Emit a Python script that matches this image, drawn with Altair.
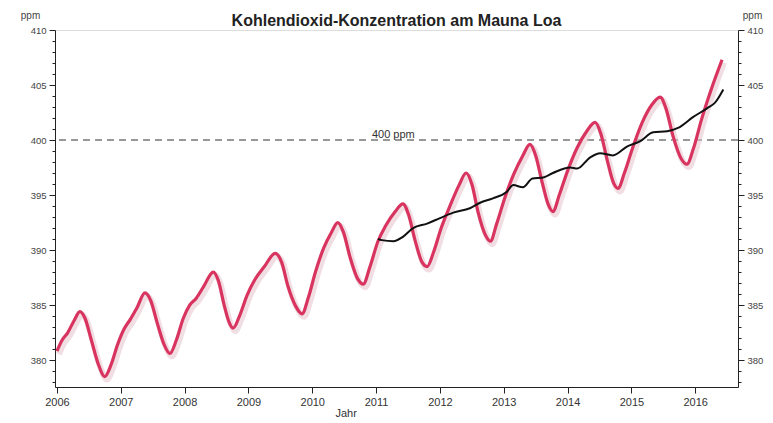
import altair as alt
import pandas as pd

# Monthly-ish CO2 readings (red curve), decimal year / ppm
red_year = [2006.00, 2006.08, 2006.17, 2006.27, 2006.36, 2006.44, 2006.54, 2006.65, 2006.75, 2006.85, 2006.95,
            2007.05, 2007.15, 2007.25, 2007.38, 2007.47, 2007.57, 2007.68, 2007.77, 2007.87, 2007.98,
            2008.08, 2008.18, 2008.30, 2008.45, 2008.53, 2008.62, 2008.70, 2008.76, 2008.86, 2008.98,
            2009.10, 2009.25, 2009.42, 2009.52, 2009.62, 2009.74, 2009.84, 2009.94,
            2010.05, 2010.18, 2010.30, 2010.40, 2010.49, 2010.59, 2010.71, 2010.80, 2010.90,
            2011.03, 2011.15, 2011.30, 2011.42, 2011.51, 2011.61, 2011.72, 2011.80, 2011.90,
            2012.02, 2012.15, 2012.30, 2012.41, 2012.50, 2012.60, 2012.71, 2012.79, 2012.89,
            2013.02, 2013.15, 2013.30, 2013.41, 2013.50, 2013.60, 2013.70, 2013.77, 2013.87,
            2014.00, 2014.15, 2014.30, 2014.43, 2014.52, 2014.62, 2014.72, 2014.79, 2014.89,
            2015.02, 2015.17, 2015.32, 2015.45, 2015.54, 2015.65, 2015.78, 2015.87, 2015.97,
            2016.10, 2016.25, 2016.42]
red_ppm = [380.8, 381.8, 382.5, 383.6, 384.4, 383.8, 381.8, 379.6, 378.5, 379.6, 381.4,
           382.8, 383.7, 384.7, 386.1, 385.4, 383.4, 381.4, 380.6, 381.8, 383.8,
           385.0, 385.6, 386.7, 388.0, 387.2, 385.0, 383.4, 382.9, 384.0, 385.9,
           387.3, 388.5, 389.7, 388.9, 386.7, 384.9, 384.2, 385.7,
           388.0, 390.2, 391.6, 392.5, 391.6, 389.4, 387.4, 386.9, 388.4,
           390.8, 392.2, 393.5, 394.2, 393.2, 390.9, 388.9, 388.5, 389.8,
           392.0, 393.9, 395.9, 397.0, 396.0, 393.4, 391.4, 390.8, 392.4,
           394.8, 396.8, 398.6, 399.6, 398.6, 396.2, 394.1, 393.5, 395.0,
           397.2, 399.3, 400.8, 401.6, 400.6, 398.2, 396.1, 395.6, 397.0,
           399.3, 401.6, 403.2, 403.9, 402.9, 400.4, 398.3, 397.8, 399.2,
           401.9, 404.6, 407.3]

# Trend line (black curve)
black_year = [2011.03, 2011.09, 2011.27, 2011.42, 2011.58, 2011.80, 2012.00, 2012.21, 2012.47, 2012.63,
              2012.83, 2013.05, 2013.15, 2013.30, 2013.45, 2013.62, 2013.77, 2014.04, 2014.15, 2014.35,
              2014.51, 2014.71, 2014.93, 2015.14, 2015.34, 2015.56, 2015.73, 2015.97, 2016.19, 2016.31,
              2016.44]
black_ppm = [391.0, 390.9, 390.8, 391.2, 392.0, 392.4, 392.9, 393.4, 393.8, 394.3,
             394.7, 395.3, 395.9, 395.7, 396.5, 396.6, 397.0, 397.5, 397.4, 398.4,
             398.8, 398.6, 399.4, 399.9, 400.7, 400.8, 401.1, 402.1, 402.9, 403.4,
             404.6]

x_tick_values = [2006 + q / 4 for q in range(0, 43)]
y_tick_values = list(range(378, 411))

ref_level = [400]
ref_label = ["400 ppm"]
ref_label_year = [2011.27]

red_df = pd.DataFrame({"year": red_year, "ppm": red_ppm})
black_df = pd.DataFrame({"year": black_year, "ppm": black_ppm})
ref_df = pd.DataFrame({"ppm": ref_level})
lbl_df = pd.DataFrame({"year": ref_label_year, "ppm": ref_level, "label": ref_label})

FONT = "Liberation Sans"
xscale = alt.Scale(domain=[2005.97, 2016.67], nice=False, zero=False)
yscale = alt.Scale(domain=[377.55, 410], nice=False, zero=False)

xaxis = alt.Axis(
    values=x_tick_values, format="d",
    labelExpr="datum.value % 1 == 0 ? datum.label : ''",
    tickSize={"condition": {"test": "datum.value % 1 == 0", "value": 6}, "value": 3},
    labelOverlap=False, labelFlush=False, grid=False,
    domainColor="#222", tickColor="#222", labelColor="#333",
    labelFont=FONT, labelFontSize=11, labelPadding=3,
    title="Jahr", titleFont=FONT, titleFontSize=11, titleFontWeight="normal",
    titleColor="#333", titleAnchor="start", titleX=280, titleY=29, titleBaseline="alphabetic",
)

def yaxis(orient, tx):
    return alt.Axis(
        orient=orient, values=y_tick_values, format="d",
        labelExpr="datum.value % 5 == 0 ? datum.label : ''",
        tickSize={"condition": {"test": "datum.value % 5 == 0", "value": 6}, "value": 3},
        labelOverlap=False, labelFlush=False, grid=False,
        domainColor="#222", tickColor="#222", labelColor="#444",
        labelFont=FONT, labelFontSize=9.5, labelPadding=3,
        title="ppm", titleFont=FONT, titleFontSize=10, titleFontWeight="normal",
        titleColor="#444", titleAngle=0, titleX=tx, titleY=-12,
        titleAlign="center", titleBaseline="alphabetic",
    )

rule = alt.Chart(ref_df).mark_rule(color="#333", strokeWidth=1.2, strokeDash=[7, 5]).encode(
    y=alt.Y("ppm:Q", scale=yscale, axis=None)
)
label = alt.Chart(lbl_df).mark_text(font=FONT, fontSize=11, color="#333", baseline="alphabetic",
                                     align="center", dy=-2).encode(
    x=alt.X("year:Q", scale=xscale, axis=xaxis),
    y=alt.Y("ppm:Q", scale=yscale, axis=None),
    text="label:N",
)
shadow = alt.Chart(red_df).mark_line(color="#e3c3cc", strokeWidth=6, opacity=0.55,
                                      interpolate="monotone", xOffset=2, yOffset=3).encode(
    x=alt.X("year:Q", scale=xscale, axis=xaxis),
    y=alt.Y("ppm:Q", scale=yscale, axis=None),
)
red = alt.Chart(red_df).mark_line(color="#d8345f", strokeWidth=3.2, interpolate="monotone").encode(
    x=alt.X("year:Q", scale=xscale, axis=xaxis),
    y=alt.Y("ppm:Q", scale=yscale, axis=yaxis("left", -25)),
)
black = alt.Chart(black_df).mark_line(color="#111", strokeWidth=2, interpolate="monotone").encode(
    x=alt.X("year:Q", scale=xscale, axis=xaxis),
    y=alt.Y("ppm:Q", scale=yscale, axis=yaxis("right", 14)),
)

chart = alt.layer(rule, label, shadow, red, black).resolve_axis(y="independent").properties(
    width=683, height=357,
    autosize=alt.AutoSizeParams(type="none"),
    padding={"left": 47, "top": 22, "right": 27, "bottom": 36},
    title=alt.TitleParams("Kohlendioxid-Konzentration am Mauna Loa", font=FONT, fontSize=16,
                          fontWeight="bold", color="#222", anchor="middle", offset=-19),
).configure_view(stroke="#444", strokeWidth=1, strokeDash=[6, 2]).configure(background="white")

chart.save("out.html", embed_options={"renderer": "svg", "actions": False})
